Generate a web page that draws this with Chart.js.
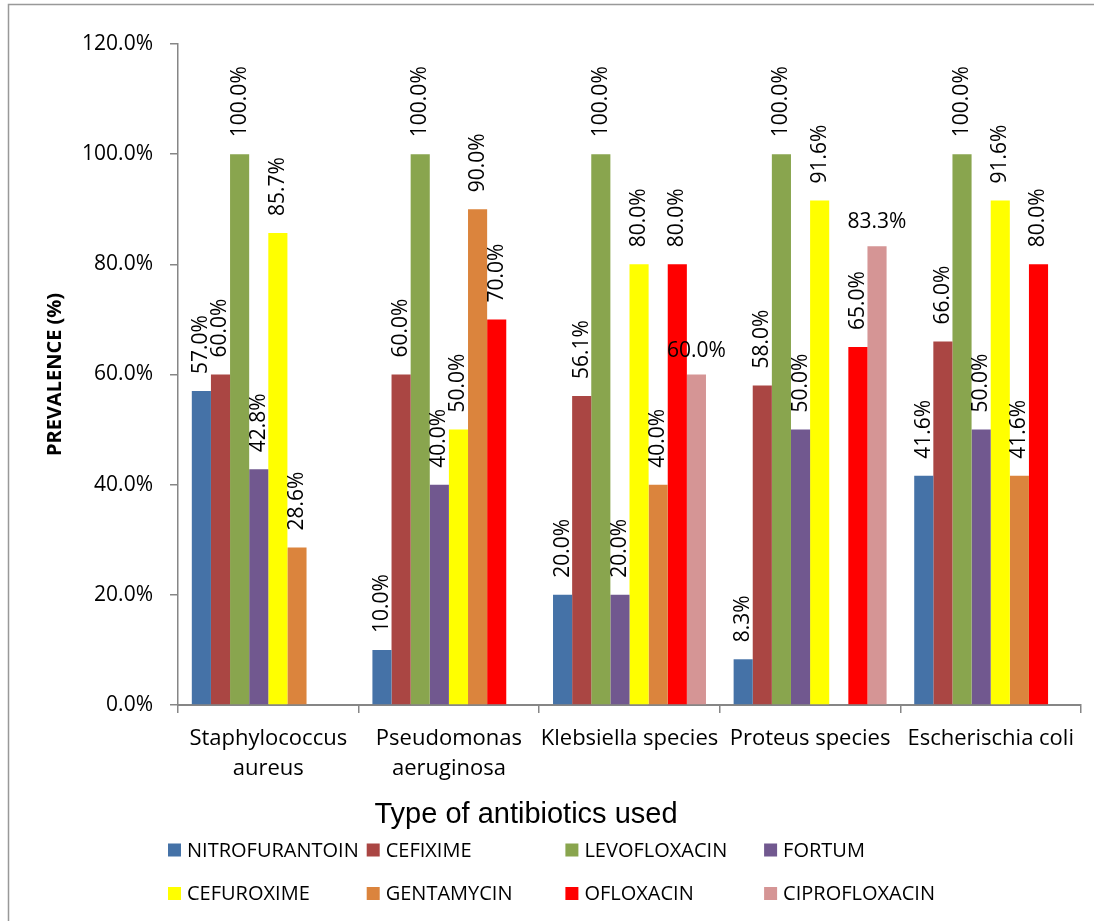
<!DOCTYPE html>
<html>
<head>
<meta charset="utf-8">
<script src="https://cdn.jsdelivr.net/npm/chart.js@4.4.1/dist/chart.umd.min.js"></script>
<style>
  html, body { margin: 0; padding: 0; background: #fff; }
  #wrap { position: relative; width: 1094px; height: 921px; }
</style>
</head>
<body>
<div id="wrap"><canvas id="prevChart"></canvas></div>
<script>
// categories (organisms) and antibiotic series, values in %
const organisms = [
    ['Staphylococcus', 'aureus'],
    ['Pseudomonas', 'aeruginosa'],
    'Klebsiella species',
    'Proteus species',
    'Escherischia coli'
];
const antibiotics = ['NITROFURANTOIN', 'CEFIXIME', 'LEVOFLOXACIN', 'FORTUM',
                     'CEFUROXIME', 'GENTAMYCIN', 'OFLOXACIN', 'CIPROFLOXACIN'];
const nitrofurantoin = [57.0, 10.0, 20.0, 8.3, 41.6];
const cefixime       = [60.0, 60.0, 56.1, 58.0, 66.0];
const levofloxacin   = [100.0, 100.0, 100.0, 100.0, 100.0];
const fortum         = [42.8, 40.0, 20.0, 50.0, 50.0];
const cefuroxime     = [85.7, 50.0, 80.0, 91.6, 91.6];
const gentamycin     = [28.6, 90.0, 40.0, null, 41.6];
const ofloxacin      = [null, 70.0, 80.0, 65.0, 80.0];
const ciprofloxacin  = [null, null, 60.0, 83.3, null];
const yTicks = [0, 20, 40, 60, 80, 100, 120];

const seriesValues = [nitrofurantoin, cefixime, levofloxacin, fortum,
                      cefuroxime, gentamycin, ofloxacin, ciprofloxacin];
const colors = ['#4572A7', '#AA4643', '#89A54E', '#71588F',
                '#FFFF00', '#DB843D', '#FF0000', '#D59595'];

Chart.defaults.font.family = "'Open Sans', sans-serif";
Chart.defaults.color = '#000';

const pct = v => v.toFixed(1) + '%';

// value labels: vertical above the bar, except the last series (horizontal)
const barLabels = {
    id: 'barLabels',
    afterDatasetsDraw(chart) {
        const ctx = chart.ctx;
        ctx.save();
        ctx.fillStyle = '#000';
        ctx.font = "21px 'Open Sans'";
        chart.data.datasets.forEach((ds, di) => {
            chart.getDatasetMeta(di).data.forEach((bar, i) => {
                const v = ds.data[i];
                if (v === null) return;
                if (di === 7) {
                    ctx.textAlign = 'center';
                    ctx.textBaseline = 'alphabetic';
                    ctx.fillText(pct(v), bar.x, bar.y - 18);
                } else {
                    ctx.save();
                    ctx.translate(bar.x, bar.y - 17);
                    ctx.rotate(-Math.PI / 2);
                    ctx.textAlign = 'left';
                    ctx.textBaseline = 'middle';
                    ctx.fillText(pct(v), 0, 0);
                    ctx.restore();
                }
            });
        });
        ctx.restore();
    }
};

// frame, axis titles and the two-row legend
const decorations = {
    id: 'decorations',
    beforeDraw(chart) {
        const ctx = chart.ctx;
        ctx.save();
        ctx.strokeStyle = '#999';
        ctx.lineWidth = 1.5;
        ctx.strokeRect(8.5, 4.5, 2000, 2000);
        ctx.restore();
    },
    afterDraw(chart) {
        const ctx = chart.ctx;
        const area = chart.chartArea;
        ctx.save();
        ctx.fillStyle = '#000';

        // y title
        ctx.save();
        ctx.translate(55, (area.top + area.bottom) / 2);
        ctx.rotate(-Math.PI / 2);
        ctx.font = "bold 20px 'Open Sans'";
        ctx.textAlign = 'center';
        ctx.textBaseline = 'middle';
        ctx.fillText('PREVALENCE (%)', 0, 0);
        ctx.restore();

        // x title
        ctx.font = "29px 'Liberation Sans'";
        ctx.textAlign = 'center';
        ctx.textBaseline = 'alphabetic';
        ctx.fillText('Type of antibiotics used', 526, 823);

        // legend
        ctx.font = "20px 'Open Sans'";
        ctx.textAlign = 'left';
        ctx.textBaseline = 'middle';
        antibiotics.forEach((name, i) => {
            const col = i % 4, row = Math.floor(i / 4);
            const x = 168 + col * 198.7;
            const y = row === 0 ? 850 : 893.5;
            ctx.fillStyle = colors[i];
            ctx.fillRect(x, y - 6.5, 13, 13);
            ctx.fillStyle = '#000';
            ctx.fillText(name, x + 19, y + 1);
        });
        ctx.restore();
    }
};

new Chart(document.getElementById('prevChart'), {
    type: 'bar',
    data: {
        labels: organisms,
        datasets: antibiotics.map((name, i) => ({
            label: name,
            data: seriesValues[i],
            backgroundColor: colors[i],
            barPercentage: 1.0,
            categoryPercentage: 0.847
        }))
    },
    options: {
        responsive: true,
        maintainAspectRatio: false,
        animation: false,
        layout: { padding: { left: 0, top: 44, right: 13, bottom: 0 } },
        scales: {
            x: {
                afterFit: scale => { scale.height = 216; },
                grid: { display: true, drawOnChartArea: false, offset: true, tickLength: 8, color: '#868686', lineWidth: 1.5 },
                border: { color: '#868686', width: 2 },
                ticks: { font: { size: 22, lineHeight: 1.4 }, color: '#000', padding: 10, maxRotation: 0, autoSkip: false }
            },
            y: {
                min: 0,
                max: 120,
                afterFit: scale => { scale.width = 178; },
                afterBuildTicks: scale => { scale.ticks = yTicks.map(v => ({ value: v })); },
                grid: { display: true, drawOnChartArea: false, tickLength: 8, color: '#868686', lineWidth: 1.5 },
                border: { color: '#868686', width: 1.5 },
                ticks: { font: { size: 21 }, color: '#000', padding: 17, callback: v => pct(v) }
            }
        },
        plugins: {
            legend: { display: false },
            tooltip: { enabled: false }
        }
    },
    plugins: [barLabels, decorations]
});
</script>
</body>
</html>
